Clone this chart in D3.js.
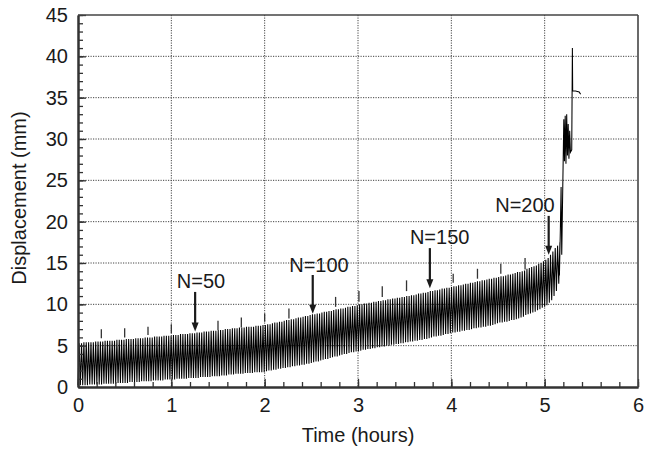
<!DOCTYPE html>
<html>
<head>
<meta charset="utf-8">
<script src="https://cdn.jsdelivr.net/npm/d3@7"></script>
<style>
  html, body { margin: 0; padding: 0; background: #fff; }
  svg { display: block; }
  text { font-family: "Liberation Sans", Arial, sans-serif; fill: #1a1a1a; }
</style>
</head>
<body>
<svg id="chart" width="645" height="453"></svg>
<script>
// ---------------- DATA ----------------
const xTicks = [0, 1, 2, 3, 4, 5, 6];
const yTicks = [0, 5, 10, 15, 20, 25, 30, 35, 40, 45];
const xLabel = "Time (hours)";
const yLabel = "Displacement (mm)";

// cycle period in hours (N = 200 reached at ~5.05 h)
const cyclePeriod = 0.02525;

// peak displacement of each loading cycle (mm), cycle 0..204
const cyclePeaks = [
  5.3,5.3,5.4,5.4,5.4,5.4,5.4,5.5,5.5,5.5,
  5.5,5.6,5.6,5.6,5.6,5.6,5.7,5.7,5.7,5.7,
  5.8,5.8,5.8,5.8,5.9,5.9,5.9,5.9,6.0,6.0,
  6.0,6.0,6.1,6.1,6.1,6.1,6.2,6.2,6.2,6.2,
  6.3,6.3,6.3,6.4,6.4,6.4,6.4,6.5,6.5,6.5,
  6.6,6.6,6.6,6.7,6.7,6.7,6.8,6.8,6.8,6.9,
  6.9,6.9,7.0,7.0,7.0,7.1,7.1,7.1,7.2,7.2,
  7.2,7.3,7.3,7.3,7.3,7.4,7.4,7.4,7.5,7.5,
  7.6,7.6,7.7,7.8,7.8,7.9,7.9,8.0,8.1,8.1,
  8.2,8.2,8.3,8.4,8.4,8.5,8.6,8.6,8.7,8.8,
  8.8,8.9,8.9,9.0,9.1,9.1,9.2,9.2,9.3,9.4,
  9.4,9.5,9.5,9.6,9.7,9.7,9.8,9.8,9.9,10.0,
  10.0,10.1,10.1,10.2,10.2,10.3,10.3,10.4,10.4,10.5,
  10.5,10.6,10.6,10.7,10.7,10.8,10.8,10.9,10.9,11.0,
  11.0,11.1,11.1,11.2,11.3,11.3,11.4,11.4,11.5,11.6,
  11.6,11.7,11.7,11.8,11.9,11.9,12.0,12.0,12.1,12.2,
  12.2,12.3,12.3,12.4,12.5,12.5,12.6,12.6,12.7,12.8,
  12.8,12.9,12.9,13.0,13.1,13.1,13.2,13.2,13.3,13.4,
  13.4,13.5,13.6,13.6,13.7,13.8,13.9,13.9,14.0,14.1,
  14.3,14.4,14.5,14.6,14.7,14.9,15.0,15.2,15.4,15.6,
  16.0,16.4,16.8,17.1,17.5
];
// trough (minimum) displacement of each cycle (mm)
const cycleTroughs = [
  0.2,0.2,0.2,0.2,0.2,0.3,0.3,0.3,0.3,0.3,
  0.3,0.4,0.4,0.4,0.4,0.4,0.4,0.5,0.5,0.5,
  0.5,0.5,0.6,0.6,0.6,0.6,0.6,0.7,0.7,0.7,
  0.7,0.7,0.8,0.8,0.8,0.8,0.8,0.9,0.9,0.9,
  0.9,0.9,1.0,1.0,1.0,1.0,1.0,1.1,1.1,1.1,
  1.1,1.1,1.2,1.2,1.2,1.2,1.2,1.3,1.3,1.3,
  1.3,1.4,1.4,1.4,1.5,1.5,1.5,1.6,1.6,1.6,
  1.6,1.7,1.7,1.7,1.7,1.8,1.8,1.8,1.8,1.8,
  1.9,2.0,2.0,2.1,2.1,2.2,2.2,2.3,2.3,2.4,
  2.4,2.5,2.5,2.6,2.6,2.7,2.7,2.8,2.8,2.9,
  3.0,3.1,3.1,3.2,3.3,3.4,3.4,3.5,3.6,3.7,
  3.7,3.8,3.9,4.0,4.0,4.1,4.2,4.2,4.3,4.3,
  4.4,4.5,4.5,4.6,4.6,4.7,4.7,4.8,4.8,4.9,
  4.9,5.0,5.0,5.1,5.1,5.2,5.2,5.3,5.3,5.4,
  5.4,5.5,5.5,5.6,5.6,5.7,5.7,5.8,5.8,5.9,
  6.0,6.1,6.1,6.2,6.2,6.3,6.4,6.4,6.5,6.6,
  6.6,6.7,6.7,6.8,6.8,6.9,6.9,7.0,7.1,7.1,
  7.2,7.2,7.3,7.3,7.4,7.4,7.5,7.6,7.7,7.8,
  7.8,7.9,7.9,8.0,8.1,8.1,8.2,8.3,8.4,8.5,
  8.7,8.8,8.9,9.0,9.1,9.3,9.4,9.6,9.7,9.9,
  10.2,10.5,11.0,11.6,12.5
];

// failure stage after the last regular cycle
const tailTime = [5.158, 5.168, 5.176, 5.180, 5.183, 5.205, 5.212, 5.220, 5.228, 5.236, 5.244, 5.252, 5.260, 5.268, 5.276, 5.290, 5.297, 5.300, 5.330, 5.370, 5.385];
const tailDisp = [13.5, 19.0, 24.2, 19.5, 16.0, 32.4, 27.3, 32.8, 27.0, 33.0, 28.0, 31.8, 27.6, 31.0, 28.4, 28.7, 41.0, 35.8, 35.8, 35.7, 35.4];

// periodic spike readings above the band
const spikeTime = [0.25, 0.50, 0.75, 1.00, 1.50, 1.75, 2.00, 2.26, 2.76, 3.01, 3.26, 3.52, 4.02, 4.28, 4.53, 4.79];
const spikeLow  = [5.9, 6.0, 6.3, 6.5, 6.9, 7.2, 7.9, 8.3, 9.7, 10.3, 10.9, 11.6, 12.6, 13.1, 13.7, 14.2];
const spikeHigh = [7.0, 7.1, 7.3, 7.6, 8.0, 8.4, 8.9, 9.5, 10.9, 11.6, 12.2, 12.9, 13.7, 14.3, 14.9, 15.6];

// cycle-count annotations
const noteLabel   = ["N=50", "N=100", "N=150", "N=200"];
const noteArrowT  = [1.255, 2.515, 3.770, 5.043];
const noteArrowTop = [11.5, 13.55, 16.8, 20.7];
const noteArrowTip = [6.7, 8.85, 11.95, 16.0];
const noteTextT   = [1.318, 2.582, 3.875, 4.789];
const noteTextY   = [11.98, 13.95, 17.3, 21.13];

// ---------------- LAYOUT ----------------
const svg = d3.select("#chart");
const L = 78, R = 638, T = 15, B = 387;
const x = d3.scaleLinear().domain([0, 6]).range([L, R]);
const y = d3.scaleLinear().domain([0, 45]).range([B, T]);
const ink = "#1a1a1a";

// grid
const grid = svg.append("g").attr("stroke", "#444").attr("stroke-width", 1)
  .attr("stroke-dasharray", "1.2,1.3");
xTicks.filter(d => d > 0 && d < 6).forEach(d => {
  grid.append("line").attr("x1", x(d)).attr("x2", x(d)).attr("y1", T).attr("y2", B);
});
yTicks.filter(d => d > 0 && d < 45).forEach(d => {
  grid.append("line").attr("x1", L).attr("x2", R).attr("y1", y(d)).attr("y2", y(d));
});

// cyclic displacement trace
const tracePts = [];
cyclePeaks.forEach((p, i) => {
  const t0 = i * cyclePeriod;
  tracePts.push([t0, cycleTroughs[i]]);
  tracePts.push([t0 + cyclePeriod * 0.5, p]);
});
tailTime.forEach((t, i) => tracePts.push([t, tailDisp[i]]));
const line = d3.line().x(d => x(d[0])).y(d => y(d[1]));
svg.append("path").datum(tracePts)
  .attr("d", line).attr("fill", "none")
  .attr("stroke", "#000").attr("stroke-width", 1.05).attr("stroke-linejoin", "miter");

// spikes
svg.append("g").selectAll("line").data(spikeTime).join("line")
  .attr("x1", d => x(d)).attr("x2", d => x(d))
  .attr("y1", (d, i) => y(spikeLow[i])).attr("y2", (d, i) => y(spikeHigh[i]))
  .attr("stroke", "#333").attr("stroke-width", 1.3);

// axes
const fontSize = "20px";
const yMajor = d3.axisLeft(y).tickValues(yTicks).tickSizeInner(-8).tickSizeOuter(0).tickPadding(10).tickFormat(d3.format("d"));
const yMinor = d3.axisLeft(y).tickValues(d3.range(0, 46, 1)).tickSizeInner(-5).tickSizeOuter(0).tickFormat("");
const xMajor = d3.axisBottom(x).tickValues(xTicks).tickSizeInner(-8).tickSizeOuter(0).tickPadding(11).tickFormat(d3.format("d"));
const xMinor = d3.axisBottom(x).tickValues(d3.range(0, 30.5, 1).map(d => d / 5)).tickSizeInner(-5).tickSizeOuter(0).tickFormat("");

function styleAxis(g) {
  g.select(".domain").attr("stroke", "#333").attr("stroke-width", 2);
  g.selectAll(".tick line").attr("stroke", "#333").attr("stroke-width", 1.3);
  g.selectAll(".tick text").attr("fill", ink).style("font-size", fontSize)
    .style("font-family", '"Liberation Sans", Arial, sans-serif');
}
svg.append("g").attr("transform", `translate(${L},0)`).call(yMinor).call(styleAxis);
svg.append("g").attr("transform", `translate(${L},0)`).call(yMajor).call(styleAxis);
svg.append("g").attr("transform", `translate(0,${B})`).call(xMinor).call(styleAxis);
svg.append("g").attr("transform", `translate(0,${B})`).call(xMajor).call(styleAxis);

// top & right frame
svg.append("line").attr("x1", L).attr("x2", R).attr("y1", T).attr("y2", T)
  .attr("stroke", "#444").attr("stroke-width", 1.6);
svg.append("line").attr("x1", R).attr("x2", R).attr("y1", T).attr("y2", B)
  .attr("stroke", "#444").attr("stroke-width", 1.6);

// axis titles
svg.append("text").attr("x", (L + R) / 2).attr("y", 442)
  .attr("text-anchor", "middle").style("font-size", fontSize).text(xLabel);
svg.append("text").attr("transform", `translate(26,${(T + B) / 2 - 3}) rotate(-90)`)
  .attr("text-anchor", "middle").style("font-size", fontSize).text(yLabel);

// annotations
const notes = svg.append("g");
noteLabel.forEach((lab, i) => {
  const ax = x(noteArrowT[i]);
  const top = y(noteArrowTop[i]);
  const tip = y(noteArrowTip[i]);
  notes.append("line").attr("x1", ax).attr("x2", ax).attr("y1", top).attr("y2", tip - 7)
    .attr("stroke", ink).attr("stroke-width", 2.2);
  notes.append("path")
    .attr("d", `M${ax - 3.5},${tip - 9} L${ax + 3.5},${tip - 9} L${ax},${tip} Z`)
    .attr("fill", ink);
  notes.append("text").attr("x", x(noteTextT[i])).attr("y", y(noteTextY[i]))
    .attr("text-anchor", "middle").style("font-size", fontSize).text(lab);
});
</script>
</body>
</html>
